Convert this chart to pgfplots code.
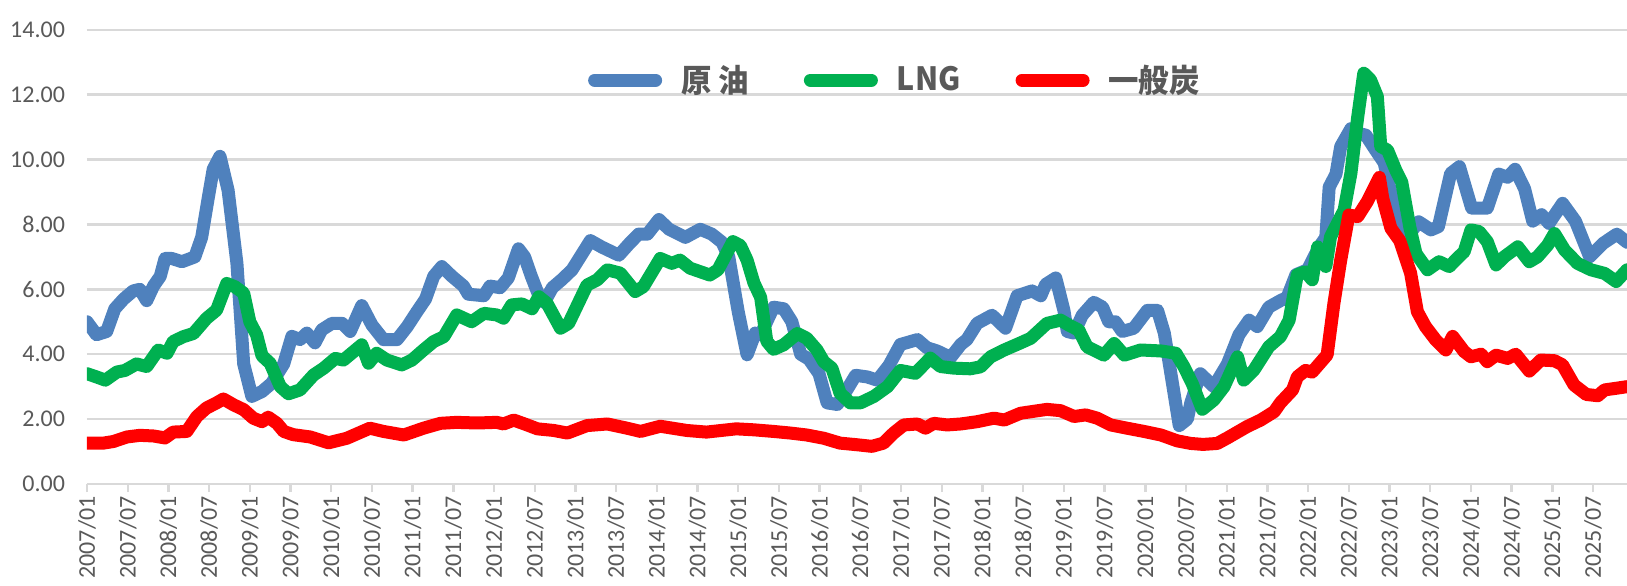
\documentclass[border=0pt]{standalone}
\usepackage{fontspec}
\setmainfont{Carlito}
\newfontfamily\cjk{Noto Sans CJK JP}[FakeStretch=0.95]
\usepackage{pgfplots}
\pgfplotsset{compat=1.18}
\definecolor{oil}{RGB}{79,129,189}
\definecolor{lng}{RGB}{0,176,80}
\definecolor{coal}{RGB}{255,0,0}
\definecolor{gridg}{RGB}{217,217,217}
\definecolor{txtg}{RGB}{89,89,89}
\begin{document}
\begin{tikzpicture}
\begin{axis}[
  at={(0pt,0pt)}, anchor=south west,
  scale only axis, width=770pt, height=227.15pt,
  xmin=0, xmax=227, ymin=0, ymax=14,
  axis line style={draw=none},
  ytick={0,2,...,14},
  ymajorgrids, grid style={gridg, line width=1.2pt},
  ytick style={draw=none},
  xtick={0,6,...,222},
  xticklabels={2007/01,2007/07,2008/01,2008/07,2009/01,2009/07,2010/01,2010/07,2011/01,2011/07,2012/01,2012/07,2013/01,2013/07,2014/01,2014/07,2015/01,2015/07,2016/01,2016/07,2017/01,2017/07,2018/01,2018/07,2019/01,2019/07,2020/01,2020/07,2021/01,2021/07,2022/01,2022/07,2023/01,2023/07,2024/01,2024/07,2025/01,2025/07},
  xtick pos=bottom, tick align=outside,
  xtick style={gridg, line width=1.2pt},
  major tick length=4pt,
  xticklabel style={rotate=90, anchor=east, font=\fontsize{12}{14}\selectfont, text=txtg, inner sep=2pt},
  yticklabel style={font=\fontsize{12}{14}\selectfont, text=txtg, xshift=-3.5pt},
  /pgf/number format/fixed, /pgf/number format/fixed zerofill,
  /pgf/number format/precision=2, /pgf/number format/assume math mode=true,
  legend columns=3,
  legend style={at={(rel axis cs:0.524,0.889)}, anchor=center, draw=none, fill=none,
    font=\fontsize{16}{18}\selectfont\cjk\bfseries, text=txtg,
    nodes={inner sep=0pt},
    /tikz/every odd column/.append style={column sep=9.5pt},
    /tikz/every even column/.append style={column sep=27.5pt}},
  legend image code/.code={\draw[#1] (0pt,0pt) -- (24pt,0pt); \path (-3.25pt,0pt) -- (27.25pt,0pt);},
  every axis plot/.append style={line width=6.5pt, line join=round, line cap=round, no markers},
]
\addplot[oil] coordinates {
(0,5.0)(1.4,4.6)(2.9,4.7)(4.1,5.4)(5.4,5.7)(6.8,5.95)(7.8,6.0)(8.8,5.65)(9.8,6.1)(10.8,6.4)
(11.5,6.95)(12.5,6.95)(14,6.85)(15.9,7.0)(16.9,7.6)(17.9,8.85)(18.6,9.7)(19.6,10.1)(20.8,9.05)
(22.1,6.8)(23.1,3.7)(24.3,2.7)(25.8,2.85)(27.2,3.1)(29,3.7)(30.2,4.55)(31.4,4.45)(32.4,4.65)
(33.6,4.35)(34.6,4.75)(36.1,4.95)(37.6,4.95)(38.8,4.7)(40.5,5.5)(42,4.9)(43.7,4.45)(45.7,4.45)
(47.2,4.85)(48.6,5.3)(49.9,5.7)(51.1,6.4)(52.3,6.7)(53.8,6.4)(55.5,6.1)(56.2,5.85)(58.5,5.8)
(59.4,6.1)(60.9,6.05)(62.1,6.35)(63.6,7.25)(64.5,7.0)(65.5,6.4)(66.8,5.7)(67.4,5.6)(68.6,6.05)
(70,6.3)(71.5,6.6)(74.2,7.5)(75.9,7.3)(78.4,7.05)(79.9,7.4)(81.3,7.7)(82.6,7.7)(84.3,8.15)
(85.8,7.85)(88.2,7.6)(90.4,7.85)(92.1,7.7)(93.6,7.45)(94.6,7.0)(96,5.3)(97.3,3.98)(98.5,4.65)
(99.3,4.6)(101.2,5.45)(102.7,5.4)(103.9,5.0)(105.2,4.0)(106.4,3.85)(107.9,3.4)(109.1,2.5)
(110.6,2.45)(112,2.9)(113.3,3.35)(115,3.3)(116.5,3.2)(118.2,3.65)(119.9,4.3)(122.4,4.45)
(123.8,4.2)(125.3,4.1)(127.3,3.9)(128.8,4.3)(129.7,4.45)(131.2,4.95)(133.4,5.2)(135.4,4.8)
(137.1,5.8)(139.3,5.95)(140.6,5.8)(141.3,6.15)(142.8,6.35)(144,5.35)(144.5,4.7)(145.5,4.65)
(146.7,5.2)(148.4,5.6)(149.7,5.45)(150.6,5.0)(151.6,5.0)(152.6,4.7)(154.3,4.8)(156.3,5.35)
(157.8,5.35)(158.8,4.65)(160,3.1)(161,1.8)(162.2,2.0)(162.7,2.5)(164.1,3.4)(166.1,3.0)
(168.1,3.7)(169.8,4.6)(171.3,5.05)(172.5,4.85)(174.2,5.45)(175.9,5.65)(176.9,5.75)(178.2,6.45)
(179.9,6.6)(181.6,7.3)(182.6,7.6)(183.1,9.15)(184.1,9.55)(184.8,10.4)(186.3,10.95)(187.5,10.8)
(188.5,10.75)(189.9,10.3)(191.2,9.9)(192.1,9.06)(193.1,8.45)(194.6,7.62)(196.3,8.08)(198.1,7.83)
(199.2,7.93)(201,9.57)(202.3,9.78)(204.1,8.5)(206.4,8.5)(208.1,9.55)(209.4,9.45)(210.5,9.7)
(211.9,9.1)(213.1,8.1)(214.4,8.3)(215.5,8.03)(217.5,8.65)(219.4,8.1)(221.5,7.0)(223.5,7.42)
(225.5,7.7)(227,7.45)
};
\addlegendentry{原 油}
\addplot[lng] coordinates {
(0,3.4)(1.4,3.3)(2.7,3.2)(4.4,3.45)(5.6,3.5)(7.3,3.7)(8.8,3.62)(10.5,4.13)(11.8,4.03)(12.7,4.39)
(14.2,4.54)(15.7,4.64)(17.6,5.1)(19.1,5.36)(20.6,6.18)(21.8,6.08)(23.1,5.88)(24,5.0)(25,4.6)
(25.8,3.95)(27,3.72)(28.5,3.0)(29.7,2.78)(31.4,2.9)(33.4,3.36)(34.9,3.57)(36.6,3.87)(37.8,3.82)
(39.3,4.08)(40.5,4.29)(41.5,3.72)(42.7,4.03)(44.2,3.82)(46.4,3.67)(47.9,3.82)(49.6,4.13)
(51.1,4.39)(52.6,4.54)(54.5,5.21)(56.7,5.0)(58.5,5.26)(60.4,5.21)(61.4,5.11)(62.6,5.52)
(64.1,5.55)(65.6,5.4)(66.6,5.77)(67.8,5.57)(69.8,4.8)(71,4.95)(73.7,6.13)(75.2,6.29)(76.7,6.6)
(78.6,6.5)(80.8,5.93)(82,6.08)(84.5,6.95)(86.2,6.8)(87.4,6.9)(88.9,6.65)(91.8,6.44)(93,6.6)
(95.2,7.47)(96.3,7.35)(97.3,6.9)(98.3,6.2)(99.3,5.75)(100.2,4.4)(101.2,4.15)(102.7,4.29)
(104.7,4.64)(106.1,4.49)(107.6,4.13)(108.6,3.77)(109.8,3.57)(111,2.8)(112.5,2.5)(114,2.5)
(116,2.7)(118,3.0)(119.9,3.5)(122.1,3.41)(124.3,3.88)(125.8,3.62)(127.8,3.57)(130.2,3.55)
(131.7,3.61)(133.2,3.92)(135.2,4.13)(137.4,4.33)(139.1,4.49)(141.5,4.95)(143.5,5.05)(144.7,4.9)
(146.2,4.74)(147.4,4.23)(149.9,3.97)(151.4,4.33)(152.9,3.97)(155.3,4.13)(158.3,4.1)(160.5,4.03)
(161.7,3.61)(162.9,3.1)(164.4,2.3)(166.1,2.59)(167.6,3.0)(169.6,3.92)(170.5,3.2)(172,3.51)
(174.2,4.23)(175.9,4.54)(177.2,5.05)(178.4,6.45)(179.6,6.54)(180.6,6.29)(181.4,7.31)(182.6,6.7)
(183.3,7.62)(184.3,8.03)(185.3,8.44)(186.3,9.57)(187.3,11.3)(188.2,12.66)(189.2,12.45)
(190.2,11.94)(190.7,10.4)(191.7,10.29)(192.9,9.68)(193.8,9.3)(195,7.9)(195.9,7.1)(197.6,6.6)
(199.3,6.85)(200.8,6.7)(202,6.96)(203,7.16)(204,7.83)(205.2,7.78)(206.4,7.47)(207.7,6.75)
(208.9,7.0)(210.9,7.31)(212.6,6.85)(213.8,7.0)(215.3,7.36)(216.3,7.72)(217.8,7.21)(219.7,6.8)
(221.7,6.6)(223.7,6.49)(225.4,6.24)(227,6.6)
};
\addlegendentry{LNG}
\addplot[coal] coordinates {
(0,1.26)(2.4,1.26)(3.9,1.31)(5.9,1.45)(7.8,1.5)(9.8,1.48)(11.5,1.42)(12.7,1.6)(14.7,1.62)
(16.2,2.08)(17.6,2.34)(19.1,2.5)(20.1,2.62)(21.6,2.44)(23.1,2.29)(24.5,2.03)(25.8,1.92)(26.7,2.06)
(28,1.87)(29,1.62)(30.4,1.52)(32.9,1.45)(35.6,1.27)(38.3,1.41)(41.7,1.72)(43.7,1.62)(46.7,1.51)
(49.6,1.72)(52.1,1.87)(54.5,1.9)(57.5,1.88)(60.4,1.9)(61.4,1.85)(62.9,1.97)(64.5,1.85)(66.4,1.7)
(68.8,1.65)(70.8,1.57)(73.7,1.8)(76.7,1.85)(79.6,1.72)(81.6,1.62)(84.5,1.78)(88.4,1.65)(91.3,1.6)
(95.7,1.7)(98.3,1.67)(101.2,1.62)(103.7,1.57)(106.1,1.51)(108.6,1.41)(111,1.26)(113.5,1.21)
(115.7,1.16)(117.4,1.26)(118.9,1.57)(120.4,1.82)(122.4,1.85)(123.6,1.72)(124.8,1.87)(126.8,1.82)
(128.8,1.85)(131.2,1.92)(133.7,2.03)(135.2,1.97)(137.6,2.18)(141.5,2.3)(143.5,2.26)(145.5,2.08)
(147.2,2.13)(148.9,2.03)(150.9,1.82)(153.3,1.72)(155.8,1.62)(158.3,1.51)(160.7,1.33)(162.7,1.25)
(164.5,1.22)(166.6,1.25)(168.1,1.42)(171,1.77)(173,1.97)(175,2.23)(175.9,2.5)(177.7,2.9)
(178.4,3.3)(179.6,3.5)(180.6,3.45)(182.8,3.98)(183.8,5.57)(184.8,6.9)(186,8.29)(187.3,8.24)
(188.7,8.7)(190.5,9.45)(191,8.8)(192.2,7.88)(193.5,7.5)(195.1,6.5)(196.1,5.31)(197.3,4.85)
(198.8,4.44)(200.3,4.13)(201.3,4.55)(203,4.08)(204,3.92)(205.5,4.0)(206.4,3.77)(207.7,3.97)
(209.4,3.87)(210.6,4.0)(212.6,3.48)(214.3,3.82)(216.3,3.8)(217.5,3.67)(219.2,3.05)(221,2.76)
(222.7,2.72)(223.7,2.9)(225.4,2.95)(227,3.0)
};
\addlegendentry{一般炭}
\end{axis}
\pgfresetboundingbox
\path (-43.5pt,-50.5pt) rectangle (770pt,242pt);
\end{tikzpicture}
\end{document}
